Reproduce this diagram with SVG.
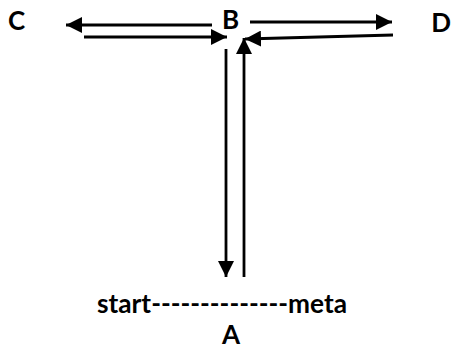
<svg xmlns="http://www.w3.org/2000/svg" width="452" height="349" viewBox="0 0 452 349">
<defs>
<marker id="ah" viewBox="0 0 16 16" refX="16" refY="8" markerWidth="16" markerHeight="16" markerUnits="userSpaceOnUse" orient="auto">
<path d="M0,0 L16,8 L0,16 Z" fill="#000"/>
</marker>
<style>
.lbl{font-family:Lato,"Open Sans","Liberation Sans",sans-serif;font-weight:bold;font-size:26px;fill:#000}
.ln{stroke:#000;stroke-width:2.8;fill:none;marker-end:url(#ah)}
</style>
</defs>
<rect width="452" height="349" fill="#fff"/>
<g id="C"><text class="lbl" x="8" y="30">C</text></g>
<g id="B"><text class="lbl" x="222" y="29">B</text></g>
<g id="D"><text class="lbl" x="451" y="32" text-anchor="end">D</text></g>
<g id="A"><text class="lbl" x="222" y="344">A</text></g>
<g id="start"><text class="lbl" x="97" y="313" textLength="250" lengthAdjust="spacingAndGlyphs">start--------------meta</text></g>
<g id="connectors">
<line class="ln" x1="212" y1="25" x2="66" y2="25"/>
<line class="ln" x1="84" y1="37" x2="227" y2="37"/>
<line class="ln" x1="250" y1="22" x2="392" y2="22"/>
<line class="ln" x1="393" y1="35" x2="245" y2="39"/>
<line class="ln" x1="226" y1="49" x2="226" y2="277"/>
<line class="ln" x1="244" y1="277" x2="244" y2="38"/>
</g>
</svg>
